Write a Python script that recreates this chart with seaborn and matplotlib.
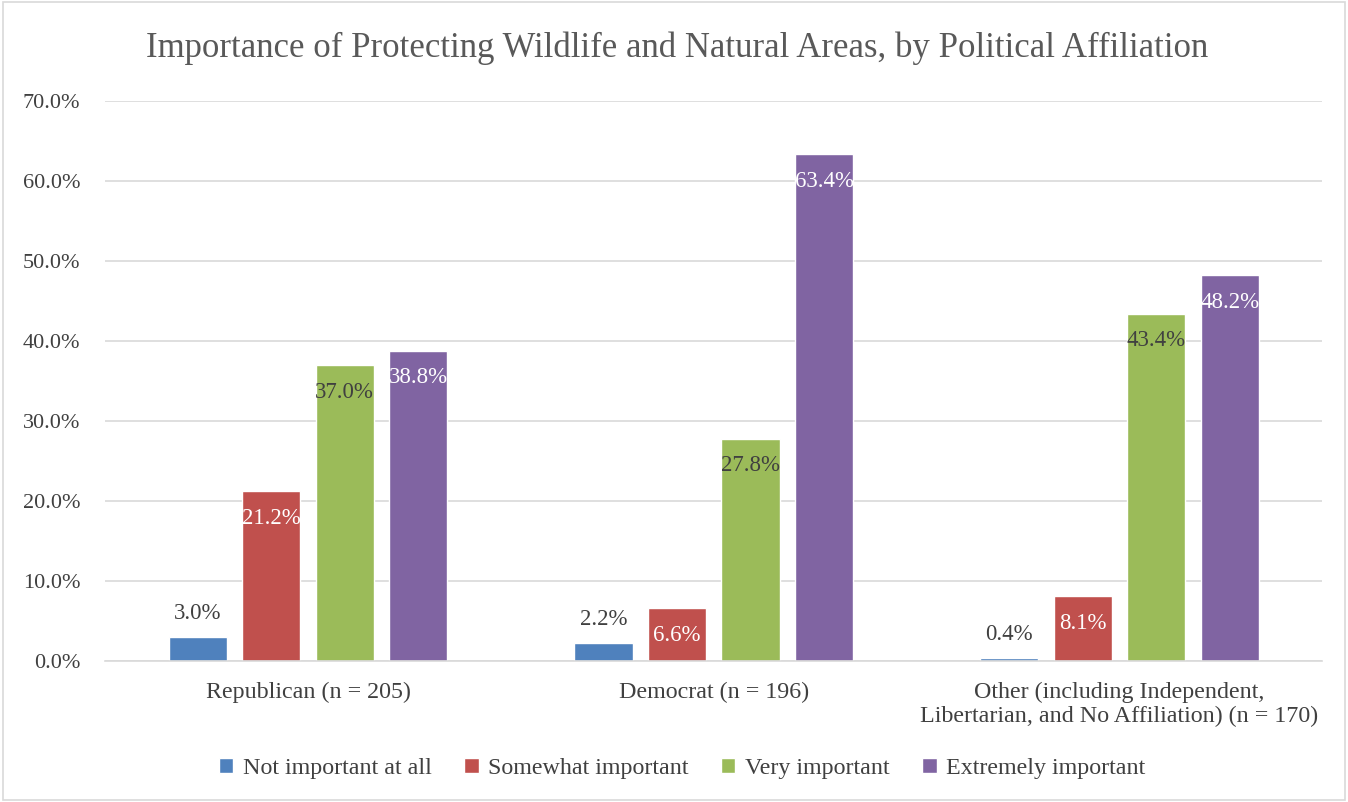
import matplotlib
matplotlib.use("Agg")
import matplotlib.pyplot as plt
import seaborn as sns
import pandas as pd
from matplotlib.patches import Rectangle

# data
groups = ["Republican (n = 205)", "Democrat (n = 196)",
          "Other (including Independent,\nLibertarian, and No Affiliation) (n = 170)"]
levels = ["Not important at all", "Somewhat important", "Very important", "Extremely important"]
not_important = [3.0, 2.2, 0.4]
somewhat = [21.2, 6.6, 8.1]
very = [37.0, 27.8, 43.4]
extremely = [38.8, 63.4, 48.2]
colors = ["#4F81BD", "#C0504D", "#9BBB59", "#8064A2"]
label_colors = ["#404040", "white", "#404040", "white"]

rows = []
for lvl, vals in zip(levels, [not_important, somewhat, very, extremely]):
    for g, v in zip(groups, vals):
        rows.append({"group": g, "level": lvl, "pct": v})
df = pd.DataFrame(rows)

sns.set_style("white")
plt.rcParams["font.family"] = ["Liberation Serif", "DejaVu Serif"]

fs = 16.5
fig = plt.figure(figsize=(13.48, 8.02), dpi=100)
ax = fig.add_axes([0.078, 0.176, 0.903, 0.698])

sns.barplot(data=df, x="group", y="pct", hue="level", order=groups, hue_order=levels,
            palette=colors, width=0.725, gap=0.21, ax=ax, legend=True, saturation=1)

ax.set_ylim(0, 70)
ax.set_yticks(range(0, 71, 10))
ax.set_yticklabels(["{:.1f}%".format(t) for t in range(0, 71, 10)], fontsize=16, color="#404040")
ax.tick_params(axis="x", labelsize=17.3, labelcolor="#404040", length=0, pad=15)
ax.tick_params(axis="y", length=0, pad=18)
ax.yaxis.grid(True, color="#D9D9D9", linewidth=1.2)
ax.set_axisbelow(True)
for s in ["top", "right", "left"]:
    ax.spines[s].set_visible(False)
ax.spines["bottom"].set_color("#D9D9D9")
ax.spines["bottom"].set_linewidth(1.2)
ax.set_xlabel("")
ax.set_ylabel("")

# value labels
for i, cont in enumerate(ax.containers):
    for bar in cont:
        h = bar.get_height()
        cx = bar.get_x() + bar.get_width() / 2
        if h < 5:
            ax.text(cx, h + 1.6, "{:.1f}%".format(h), ha="center", va="bottom",
                    fontsize=fs, color="#404040")
        else:
            ax.text(cx, h - 3.4, "{:.1f}%".format(h), ha="center", va="center",
                    fontsize=fs, color=label_colors[i])

fig.suptitle("Importance of Protecting Wildlife and Natural Areas, by Political Affiliation",
             fontsize=25, color="#595959", x=0.502, y=0.94, va="center")

handles, labels = ax.get_legend_handles_labels()
ax.legend_.remove()
leg = fig.legend(handles, labels, loc="center", bbox_to_anchor=(0.506, 0.042), ncol=4,
                 frameon=False, fontsize=17.3, handlelength=0.6, handleheight=0.6,
                 columnspacing=1.35, handletextpad=0.4)
for t in leg.get_texts():
    t.set_color("#404040")

fig.patches.append(Rectangle((0.002, 0.002), 0.996, 0.996, transform=fig.transFigure,
                             fill=False, edgecolor="#D9D9D9", linewidth=1.2))

fig.savefig("out.png", dpi=100)
